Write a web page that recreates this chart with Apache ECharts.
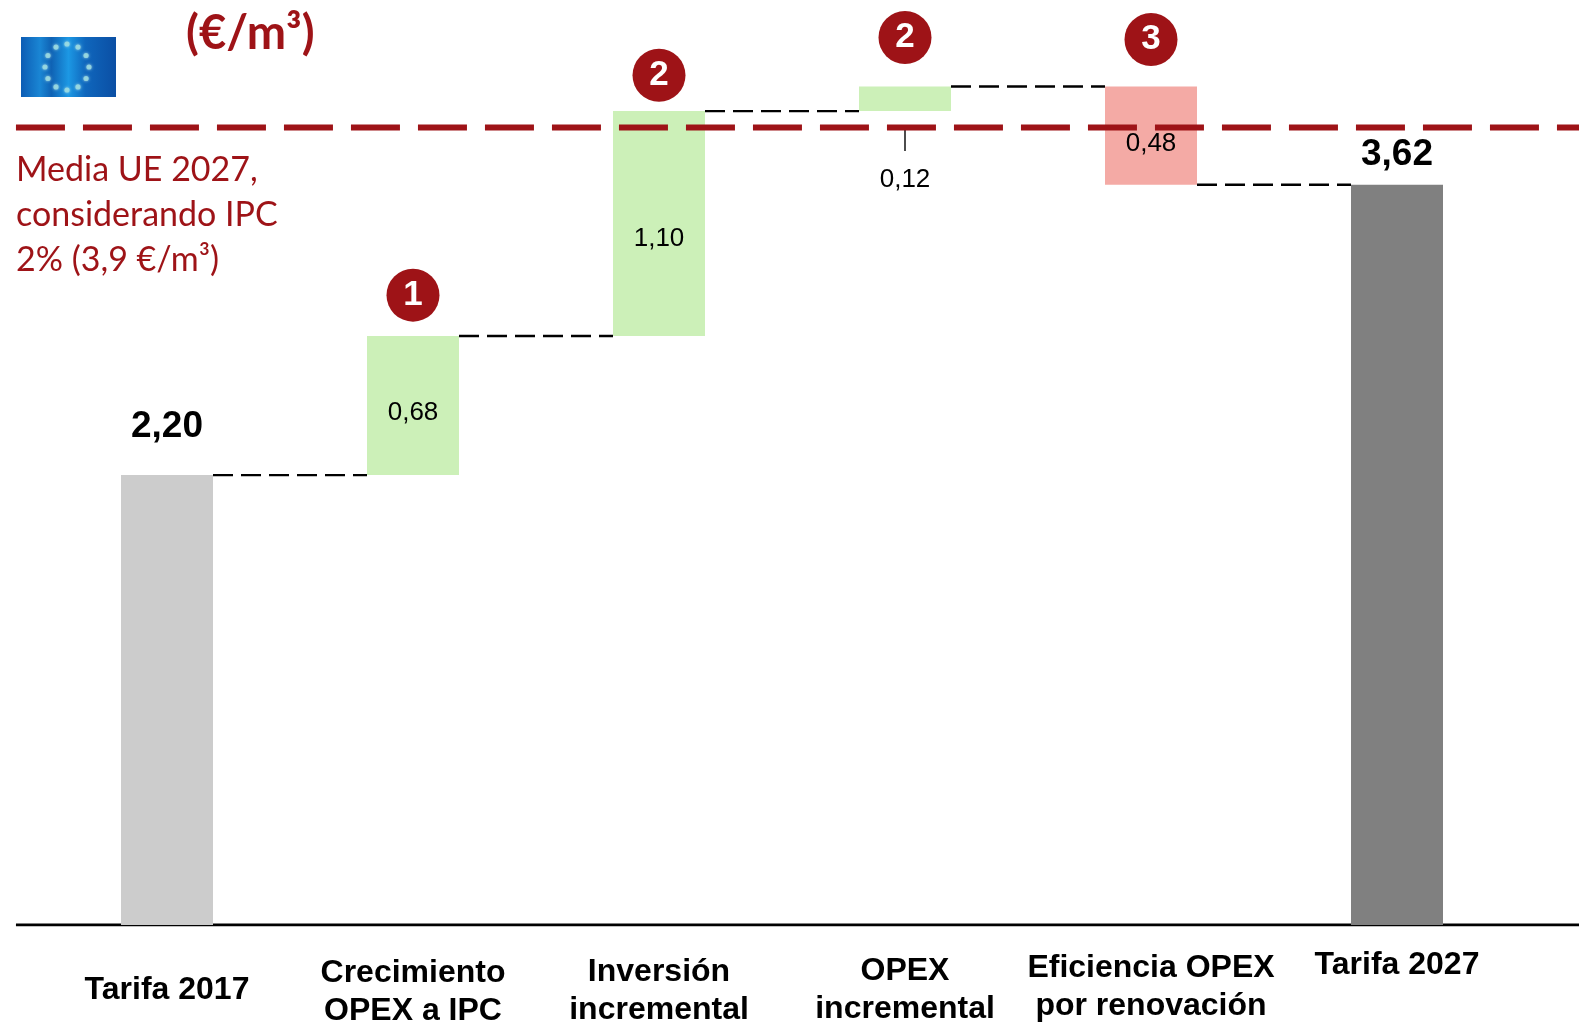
<!DOCTYPE html>
<html>
<head>
<meta charset="utf-8">
<style>html,body{margin:0;padding:0;background:#fff}#chart{width:1579px;height:1022px}</style>
<script src="https://cdn.jsdelivr.net/npm/echarts@6/dist/echarts.min.js"></script>
</head>
<body>
<div id="chart"></div>
<script>
// Tariff bridge, 2017 to 2027 (EUR per cubic metre)
const categoryLines = [
  ['Tarifa 2017'],
  ['Crecimiento', 'OPEX a IPC'],
  ['Inversión', 'incremental'],
  ['OPEX', 'incremental'],
  ['Eficiencia OPEX', 'por renovación'],
  ['Tarifa 2027']
];
const stepValues = [2.20, 0.68, 1.10, 0.12, 0.48, 3.62];
const stepBases = [0, 2.20, 2.88, 3.98, 3.62, 0];
const connectorLevels = [2.20, 2.88, 3.98, 4.10, 3.62];
const euAverage = 3.9;
const badgeNumbers = [null, 1, 2, 2, 3, null];
const badgeLevels = [null, 3.08, 4.155, 4.34, 4.33, null];
const leaderLevels = [3.89, 3.785];

const stepColors = ['#cccccc', '#ccf0b8', '#ccf0b8', '#ccf0b8', '#f4aaa5', '#808080'];
const labelTopPadding = [28, 11, 10, 9, 6, 3];
const labelSetups = [
  { position: 'top', distance: 30, fontSize: 37, fontWeight: 'bold' },
  { position: 'inside', offset: [0, 7], fontSize: 26 },
  { position: 'inside', offset: [0, 15], fontSize: 26 },
  { position: 'bottom', distance: 56, fontSize: 26 },
  { position: 'inside', offset: [0, 8], fontSize: 26 },
  { position: 'top', distance: 11, fontSize: 37, fontWeight: 'bold' }
];

const RED = '#9e1317';
const SANS = '"Liberation Sans", Arial, sans-serif';
const HALF_BAR = 46 / 246;
const X_START = -0.614;
const X_END = 5.74;

const rich = { t: { fontFamily: SANS, fontSize: 32, fontWeight: 'bold', color: '#000', lineHeight: 38 } };
labelTopPadding.forEach((p, i) => {
  rich['p' + i] = { fontFamily: SANS, fontSize: 32, fontWeight: 'bold', color: '#000', lineHeight: 38 + p, padding: [p, 0, 0, 0] };
});

const categories = ['', ...categoryLines.map(l => l.join('\n')), ''];
const pad = a => [null, ...a, null];

const connectors = connectorLevels.map((level, i) => ({
  type: 'line',
  xAxisIndex: 1,
  symbol: 'none',
  silent: true,
  z: 3,
  lineStyle: { color: '#000', width: 2.4, type: [20, 8] },
  data: [[i + HALF_BAR, level], [i + 1 - HALF_BAR, level]]
}));

// Flag emblem: ring of twelve stars on a blue field
const flagStars = [];
for (let k = 0; k < 12; k++) {
  const a = k * Math.PI / 6;
  flagStars.push({
    type: 'circle',
    shape: { cx: 67 + 22 * Math.sin(a), cy: 67 - 23 * Math.cos(a), r: 2.6 },
    style: { fill: '#9fdde0', opacity: 0.8, shadowBlur: 3, shadowColor: '#bfeef0' }
  });
}

const chart = echarts.init(document.getElementById('chart'), null, { renderer: 'canvas' });
chart.setOption({
  animation: false,
  backgroundColor: '#fff',
  grid: { left: -79, right: -64, top: 4.75, bottom: 97, containLabel: false, outerBoundsMode: 'none' },
  xAxis: [
    {
      type: 'category',
      data: categories,
      boundaryGap: false,
      axisLine: { show: false },
      axisTick: { show: false },
      axisLabel: {
        interval: 0,
        margin: 18,
        verticalAlign: 'top',
        rich,
        formatter: (v) => {
          const i = categoryLines.findIndex(l => l.join('\n') === v);
          if (i < 0) return '';
          return categoryLines[i].map((t, n) => n === 0 ? `{p${i}|${t}}` : `{t|${t}}`).join('\n');
        }
      }
    },
    { type: 'value', min: -1, max: 6, show: false }
  ],
  yAxis: { type: 'value', min: 0, max: 4.5, show: false },
  series: [
    {
      type: 'line',
      xAxisIndex: 1,
      symbol: 'none',
      silent: true,
      z: 4,
      lineStyle: { color: '#000', width: 3 },
      data: [[X_START, 0], [X_END, 0]]
    },
    ...connectors,
    {
      type: 'bar',
      stack: 'bridge',
      barWidth: 92,
      silent: true,
      itemStyle: { color: 'transparent' },
      data: pad(stepBases)
    },
    {
      type: 'bar',
      stack: 'bridge',
      barWidth: 92,
      z: 5,
      data: [null, ...stepValues.map((v, i) => ({
        value: v,
        itemStyle: { color: stepColors[i] },
        label: {
          show: true,
          color: '#000',
          fontFamily: SANS,
          formatter: v.toFixed(2).replace('.', ','),
          ...labelSetups[i]
        }
      })), null]
    },
    {
      type: 'line',
      xAxisIndex: 1,
      symbol: 'none',
      silent: true,
      z: 6,
      lineStyle: { color: '#000', width: 1.4 },
      data: leaderLevels.map(y => [3, y])
    },
    {
      type: 'line',
      xAxisIndex: 1,
      symbol: 'none',
      silent: true,
      z: 7,
      lineStyle: { color: RED, width: 6, type: [49, 18] },
      data: [[X_START, euAverage], [X_END, euAverage]]
    },
    {
      type: 'scatter',
      xAxisIndex: 1,
      symbol: 'circle',
      symbolSize: 53,
      z: 8,
      itemStyle: { color: RED, opacity: 1 },
      label: {
        show: true,
        position: 'inside',
        color: '#fff',
        fontFamily: SANS,
        fontWeight: 'bold',
        fontSize: 35,
        formatter: p => String(p.value[2])
      },
      data: badgeLevels
        .map((y, i) => y === null ? null : [i, y, badgeNumbers[i]])
        .filter(Boolean)
    }
  ],
  graphic: [
    {
      type: 'rect',
      shape: { x: 21, y: 37, width: 95, height: 60 },
      style: {
        fill: new echarts.graphic.LinearGradient(0, 0, 1, 0, [
          { offset: 0, color: '#0c5cb4' },
          { offset: 0.2, color: '#1a86d4' },
          { offset: 0.32, color: '#0f62b4' },
          { offset: 0.5, color: '#1c98e4' },
          { offset: 0.68, color: '#0f66bc' },
          { offset: 1, color: '#0b4fa4' }
        ])
      }
    },
    ...flagStars,
    {
      type: 'text',
      left: 186,
      top: 10,
      style: { text: '(€/m³)', fill: RED, font: 'bold 47px Lato, "Open Sans", sans-serif' }
    },
    {
      type: 'text',
      left: 16,
      top: 148,
      style: {
        text: 'Media UE 2027,\nconsiderando IPC\n2% (3,9 €/m³)',
        fill: RED,
        font: '34px Lato, "Open Sans", sans-serif',
        lineHeight: 45
      }
    }
  ]
});
</script>
</body>
</html>
